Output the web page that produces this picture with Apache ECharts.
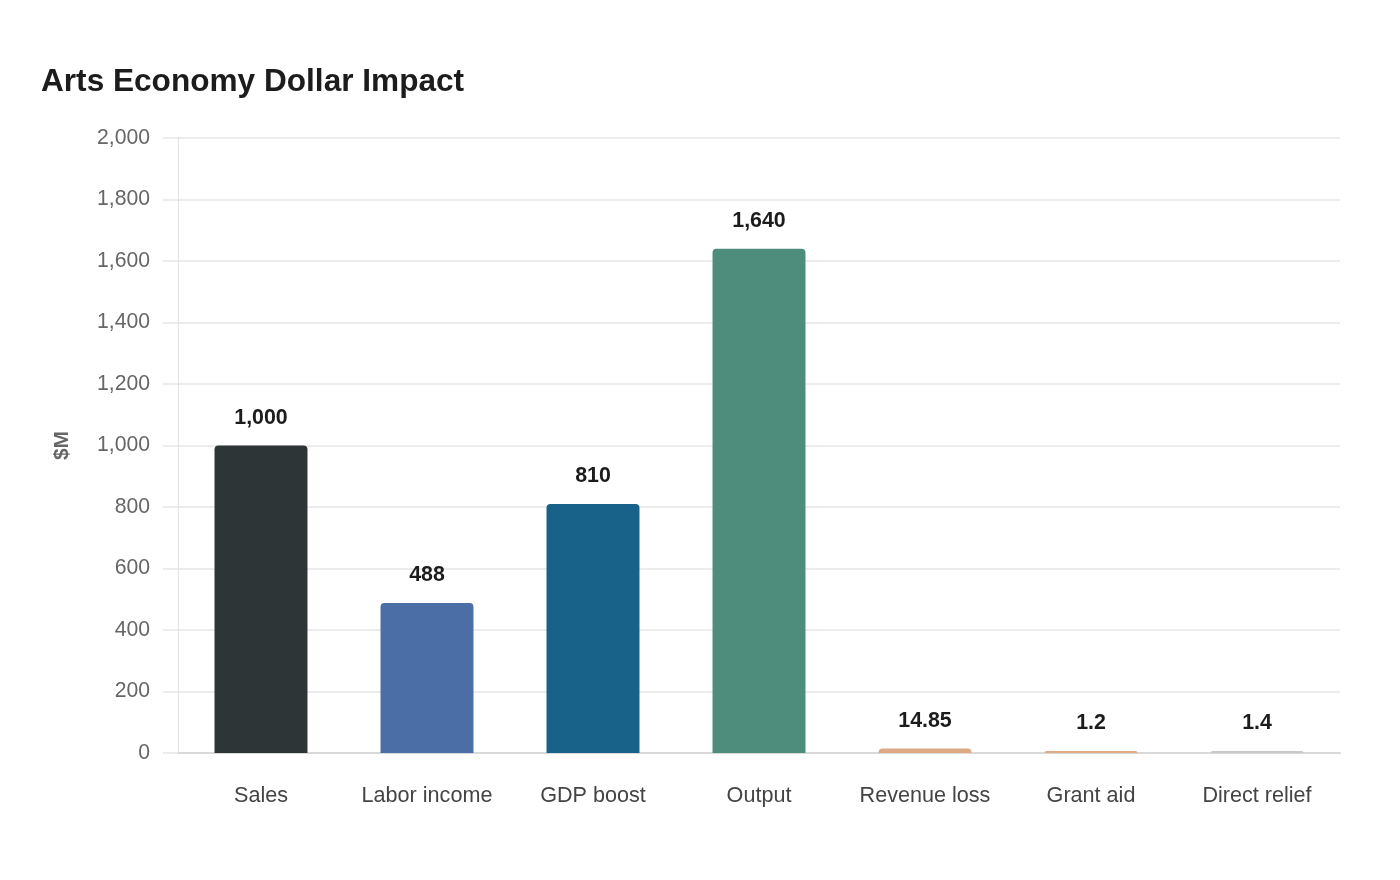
<!DOCTYPE html>
<html>
<head>
<meta charset="utf-8">
<script src="https://cdn.jsdelivr.net/npm/echarts@6/dist/echarts.min.js"></script>
<style>
  html, body { margin: 0; padding: 0; background: #fff; }
  #chart { width: 1400px; height: 880px; }
</style>
</head>
<body>
<div id="chart"></div>
<script>
// data
const categories = ['Sales', 'Labor income', 'GDP boost', 'Output', 'Revenue loss', 'Grant aid', 'Direct relief'];
const values = [1000, 488, 810, 1640, 14.85, 1.2, 1.4];
const barColors = ['#2d3537', '#4a6ea5', '#186189', '#4e8d7b', '#deaa86', '#e2ab88', '#c9c9cd'];
const yTicks = { min: 0, max: 2000, interval: 200 };

const chart = echarts.init(document.getElementById('chart'));

chart.setOption({
  textStyle: { fontFamily: 'Liberation Sans, Arial, sans-serif' },
  title: {
    text: 'Arts Economy Dollar Impact',
    left: 36,
    top: 61,
    textStyle: { fontSize: 31.6, fontWeight: 'bold', color: '#1c1c1c' }
  },
  grid: {
    left: 178,
    right: 60,
    top: 138,
    bottom: 127
  },
  xAxis: {
    type: 'category',
    data: categories,
    axisLine: { lineStyle: { color: '#d9d9d9', width: 2 } },
    axisTick: { show: false },
    axisLabel: { color: '#444', fontSize: 21.6, margin: 32, interval: 0, hideOverlap: false }
  },
  yAxis: {
    type: 'value',
    min: yTicks.min,
    max: yTicks.max,
    interval: yTicks.interval,
    name: '$M',
    nameLocation: 'middle',
    nameGap: 105,
    nameTextStyle: { fontSize: 21, fontWeight: 'bold', color: '#666' },
    axisLine: { show: true, lineStyle: { color: '#ddd', type: 'dotted' } },
    axisTick: { show: true, length: 15, lineStyle: { color: '#ececec', width: 2 } },
    axisLabel: {
      color: '#666',
      fontSize: 21.2,
      margin: 28,
      formatter: v => v.toLocaleString('en-US')
    },
    splitLine: { lineStyle: { color: '#ececec', width: 2 } }
  },
  series: [{
    type: 'bar',
    data: values.map((v, i) => ({ value: v, itemStyle: { color: barColors[i] } })),
    barWidth: '56%',
    barMinHeight: 2,
    itemStyle: { borderRadius: [4, 4, 0, 0] },
    label: {
      show: true,
      position: 'top',
      distance: 17,
      fontSize: 21.4,
      fontWeight: 'bold',
      color: '#1c1c1c',
      formatter: p => p.value.toLocaleString('en-US')
    }
  }]
});
</script>
</body>
</html>
